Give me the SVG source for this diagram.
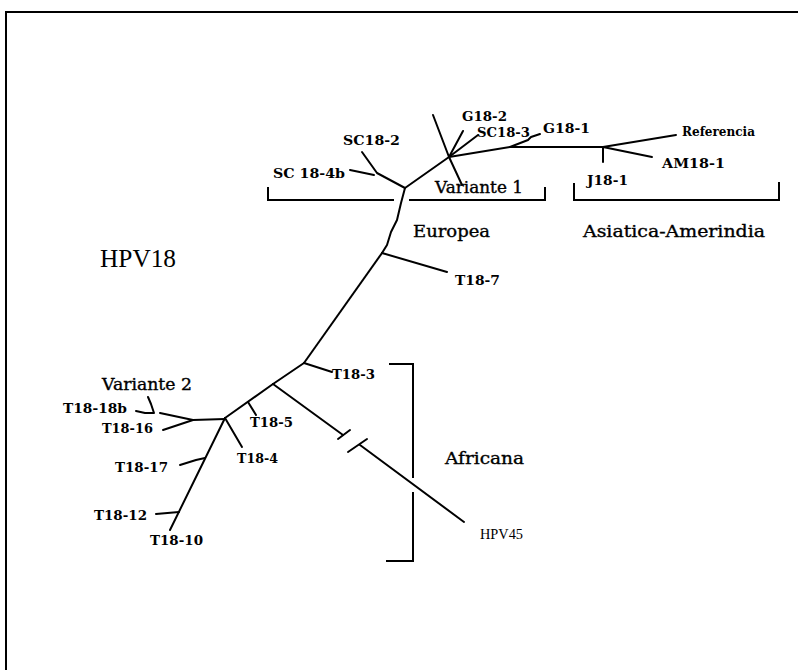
<svg xmlns="http://www.w3.org/2000/svg" width="798" height="670" viewBox="0 0 798 670">
<style>
  .br { fill: none; stroke: #000; stroke-width: 2; stroke-linecap: round; stroke-linejoin: round; }
  .bk { fill: none; stroke: #000; stroke-width: 2; stroke-linecap: square; }
  .lb { font-family: "DejaVu Serif", "Liberation Serif", serif; font-weight: bold; font-size: 13px; fill: #000; }
  .gp { font-family: "DejaVu Serif", "Liberation Serif", serif; font-size: 16px; fill: #000; stroke: #000; stroke-width: 0.35; }
  .tm { font-family: "Liberation Serif", "Times New Roman", serif; fill: #000; }
</style>
<rect width="798" height="670" fill="#fff"/>
<g id="frame">
  <path class="bk" d="M6,670 L6,12 L798,12" stroke-width="1.6"/>
</g>
<g id="connectors">
  <path class="br" d="M405,188 L449,157"/>
  <path class="br" d="M449,157 L433,115"/>
  <path class="br" d="M449,157 L462,185"/>
  <path class="br" d="M449,157 L463,131"/>
  <path class="br" d="M449,157 L478,135"/>
  <path class="br" d="M449,157 L510,147 L603,147"/>
  <path class="br" d="M510,147 L528,140 L531,137 L540,134"/>
  <path class="br" d="M603,147 L676,135"/>
  <path class="br" d="M603,147 L652,157"/>
  <path class="br" d="M603,147 L603,162"/>
  <path class="br" d="M405,188 L377,173 L362,152"/>
  <path class="br" d="M350,170 L374,175"/>
  <path class="br" d="M405,188 L401,203 L397,220 L391,232 L387,245 L382,253"/>
  <path class="br" d="M382,253 L447,272"/>
  <path class="br" d="M382,253 L304,363"/>
  <path class="br" d="M304,363 L332,372"/>
  <path class="br" d="M304,363 L273,384"/>
  <path class="br" d="M273,384 L343,435"/>
  <path class="br" d="M338,439 L350,430"/>
  <path class="br" d="M348,452 L367,439"/>
  <path class="br" d="M360,445 L464,522"/>
  <path class="br" d="M273,384 L225,418"/>
  <path class="br" d="M248,402 L256,415"/>
  <path class="br" d="M225,418 L242,447"/>
  <path class="br" d="M225,419 L193,420"/>
  <path class="br" d="M193,420 L160,413"/>
  <path class="br" d="M193,420 L163,430"/>
  <path class="br" d="M136,411 L145,413 L154,413 L151,404 L148,397"/>
  <path class="br" d="M225,418 L170,530"/>
  <path class="br" d="M205,458 L196,460 L180,465"/>
  <path class="br" d="M179,512 L156,514"/>
</g>
<g id="brackets">
  <path class="bk" d="M268,188 L268,200 L393,200"/>
  <path class="bk" d="M410,200 L545,200 L545,188"/>
  <path class="bk" d="M574,184 L574,200 L779,200 L779,183"/>
  <path class="bk" d="M390,364 L413,364 L413,477"/>
  <path class="bk" d="M413,493 L413,561 L387,561"/>
</g>
<g id="n-sc184b"><text class="lb" x="273" y="178" textLength="72" lengthAdjust="spacingAndGlyphs">SC 18-4b</text></g>
<g id="n-sc182"><text class="lb" x="343" y="145" textLength="57" lengthAdjust="spacingAndGlyphs">SC18-2</text></g>
<g id="n-g182"><text class="lb" x="462" y="121" textLength="45" lengthAdjust="spacingAndGlyphs">G18-2</text></g>
<g id="n-sc183"><text class="lb" x="477" y="137" textLength="53" lengthAdjust="spacingAndGlyphs">SC18-3</text></g>
<g id="n-g181"><text class="lb" x="543" y="133" textLength="47" lengthAdjust="spacingAndGlyphs">G18-1</text></g>
<g id="n-referencia"><text class="lb" x="682" y="136" font-size="11" textLength="73" lengthAdjust="spacingAndGlyphs">Referencia</text></g>
<g id="n-am181"><text class="lb" x="662" y="168" textLength="63" lengthAdjust="spacingAndGlyphs">AM18-1</text></g>
<g id="n-j181"><text class="lb" x="587" y="185" textLength="41" lengthAdjust="spacingAndGlyphs">J18-1</text></g>
<g id="n-variante1"><text class="gp" x="435" y="193" textLength="88" lengthAdjust="spacingAndGlyphs">Variante 1</text></g>
<g id="g-europea"><text class="gp" x="413" y="237" textLength="77" lengthAdjust="spacingAndGlyphs">Europea</text></g>
<g id="g-asiatica"><text class="gp" x="583" y="237" textLength="182" lengthAdjust="spacingAndGlyphs">Asiatica-Amerindia</text></g>
<g id="title"><text class="tm" x="100" y="267" font-size="26" textLength="76" lengthAdjust="spacingAndGlyphs">HPV18</text></g>
<g id="n-t187"><text class="lb" x="455" y="285" textLength="45" lengthAdjust="spacingAndGlyphs">T18-7</text></g>
<g id="n-t183"><text class="lb" x="332" y="379" textLength="43" lengthAdjust="spacingAndGlyphs">T18-3</text></g>
<g id="n-t185"><text class="lb" x="250" y="427" textLength="43" lengthAdjust="spacingAndGlyphs">T18-5</text></g>
<g id="n-t184"><text class="lb" x="237" y="463" textLength="41" lengthAdjust="spacingAndGlyphs">T18-4</text></g>
<g id="n-variante2"><text class="gp" x="102" y="390" textLength="90" lengthAdjust="spacingAndGlyphs">Variante 2</text></g>
<g id="n-t1818b"><text class="lb" x="63" y="413" textLength="64" lengthAdjust="spacingAndGlyphs">T18-18b</text></g>
<g id="n-t1816"><text class="lb" x="102" y="433" textLength="51" lengthAdjust="spacingAndGlyphs">T18-16</text></g>
<g id="n-t1817"><text class="lb" x="115" y="472" textLength="53" lengthAdjust="spacingAndGlyphs">T18-17</text></g>
<g id="n-t1812"><text class="lb" x="94" y="520" textLength="53" lengthAdjust="spacingAndGlyphs">T18-12</text></g>
<g id="n-t1810"><text class="lb" x="150" y="545" textLength="53" lengthAdjust="spacingAndGlyphs">T18-10</text></g>
<g id="g-africana"><text class="gp" x="445" y="464" textLength="79" lengthAdjust="spacingAndGlyphs">Africana</text></g>
<g id="n-hpv45"><text class="tm" x="480" y="539" font-size="15" textLength="43" lengthAdjust="spacingAndGlyphs">HPV45</text></g>
</svg>
